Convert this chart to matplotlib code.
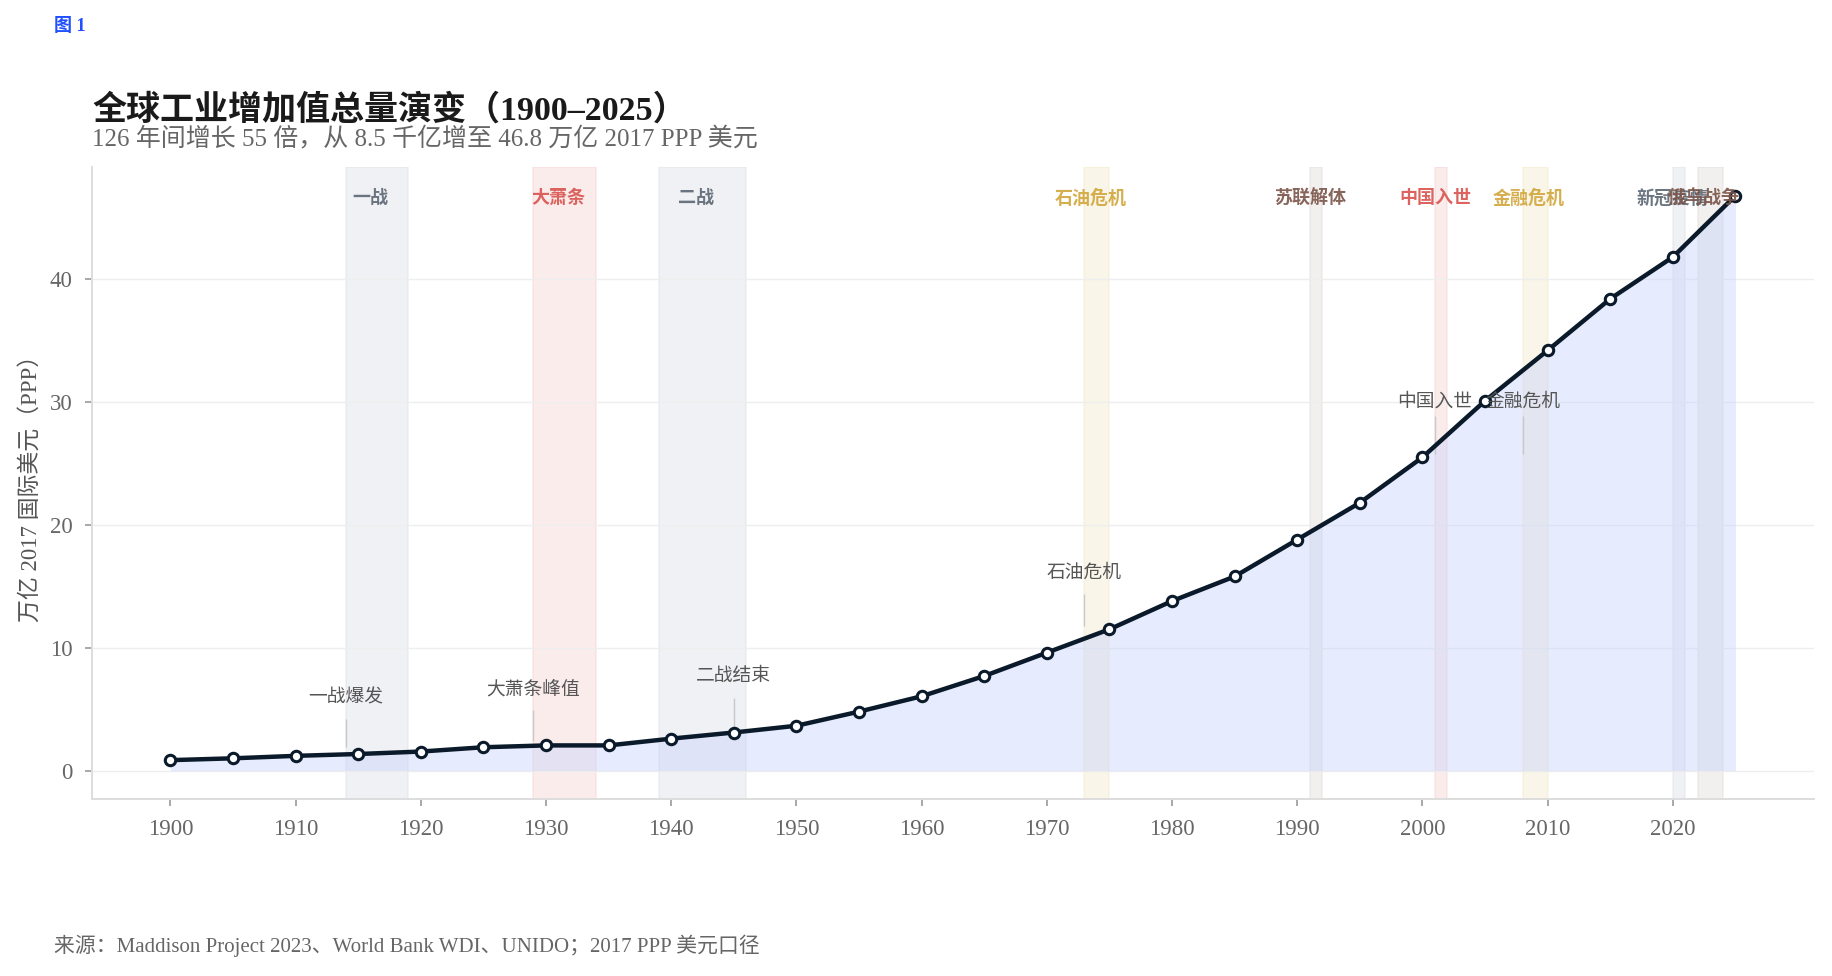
import numpy as np
import matplotlib.pyplot as plt

CJK = ['Liberation Serif', 'Noto Sans CJK SC', 'DejaVu Sans']
plt.rcParams['font.family'] = CJK

# --- data ---
years = [1900, 1905, 1910, 1915, 1920, 1925, 1930, 1935, 1940, 1945, 1950, 1955, 1960,
         1965, 1970, 1975, 1980, 1985, 1990, 1995, 2000, 2005, 2010, 2015, 2020, 2025]
value = [0.85, 1.0, 1.2, 1.35, 1.55, 1.9, 2.05, 2.05, 2.6, 3.1, 3.65, 4.8, 6.05,
         7.7, 9.6, 11.5, 13.8, 15.8, 18.8, 21.8, 25.5, 30.1, 34.2, 38.4, 41.8, 46.8]

# shaded periods: (label, start, end, kind)
ev_names = ['一战', '大萧条', '二战', '石油危机', '苏联解体', '中国入世', '金融危机', '新冠疫情', '俄乌战争']
ev_start = [1914, 1929, 1939, 1973, 1991, 2001, 2008, 2020, 2022]
ev_end = [1918, 1933, 1945, 1974, 1991, 2001, 2009, 2020, 2023]
ev_kind = ['war', 'crisis', 'war', 'oil', 'pol', 'crisis', 'oil', 'war', 'pol']

# point annotations
ann_text = ['一战爆发', '大萧条峰值', '二战结束', '石油危机', '中国入世', '金融危机']
ann_year = [1914, 1929, 1945, 1973, 2001, 2008]
ann_ty = [5.9, 6.6, 7.7, 16.1, 30.0, 30.0]
ann_top = [4.2, 4.9, 5.9, 14.4, 28.9, 28.9]
ann_bot = [1.9, 2.4, 3.3, 11.8, 25.8, 25.8]

band_col = {'war': '#d5d9e0', 'crisis': '#f6c9c9', 'oil': '#efe4bf', 'pol': '#d9d4d0'}
text_col = {'war': '#5c6773', 'crisis': '#d9534f', 'oil': '#d1a53a', 'pol': '#7b5448'}

fig = plt.figure(figsize=(18.32, 9.76), dpi=100)
ax = fig.add_axes([0.0503, 0.181, 0.9397, 0.648])

for s, e, k in zip(ev_start, ev_end, ev_kind):
    ax.axvspan(s, e + 1, color=band_col[k], alpha=0.35, lw=1.2, zorder=0)

ax.fill_between(years, 0, value, color='#c9d4fb', alpha=0.45, zorder=1, lw=0)
ax.plot(years, value, color='#0b1a2a', lw=3.2, marker='o', ms=7.5,
        mfc='white', mec='#0b1a2a', mew=2.2, zorder=4)

for name, s, e, k in zip(ev_names, ev_start, ev_end, ev_kind):
    ax.text((s + e) / 2, 0.95, name, transform=ax.get_xaxis_transform(),
            ha='center', va='center', fontsize=13, fontweight='bold',
            color=text_col[k], alpha=0.9, zorder=5)

for t, yr, ty, y0, y1 in zip(ann_text, ann_year, ann_ty, ann_top, ann_bot):
    ax.vlines(yr, y1, y0, color='#c8c8c8', lw=1, zorder=2)
    ax.text(yr, ty, t, ha='center', va='center', fontsize=13.5, color='#555555', zorder=5)

ax.set_xlim(1893.75, 2031.25)
ax.set_ylim(-2.34, 49.14)
ax.set_xticks(range(1900, 2021, 10))
ax.set_yticks(range(0, 41, 10))
ax.tick_params(axis='both', labelsize=16.5, colors='#666666', length=5, width=1.2,
               color='#999999', pad=9)
ax.grid(axis='y', color='#eeeeee', lw=1)
ax.set_axisbelow(True)
for sp in ['top', 'right']:
    ax.spines[sp].set_visible(False)
for sp in ['left', 'bottom']:
    ax.spines[sp].set_color('#dddddd')
    ax.spines[sp].set_linewidth(1.4)
ax.set_ylabel('万亿 2017 国际美元（PPP）', fontsize=16.5, color='#555555', labelpad=6)

fig.text(0.0295, 0.973, '图 1', fontsize=13, fontweight='bold', color='#1f4fff', va='center')
fig.text(0.0503, 0.887, '全球工业增加值总量演变（1900–2025）', fontsize=24.5,
         fontweight='bold', color='#1a1a1a', va='center')
fig.text(0.0503, 0.858, '126 年间增长 55 倍，从 8.5 千亿增至 46.8 万亿 2017 PPP 美元',
         fontsize=18, color='#666666', va='center')
fig.text(0.0295, 0.031, '来源：Maddison Project 2023、World Bank WDI、UNIDO；2017 PPP 美元口径',
         fontsize=15, color='#666666', va='center')

fig.savefig('out.png', dpi=100, facecolor='white')
